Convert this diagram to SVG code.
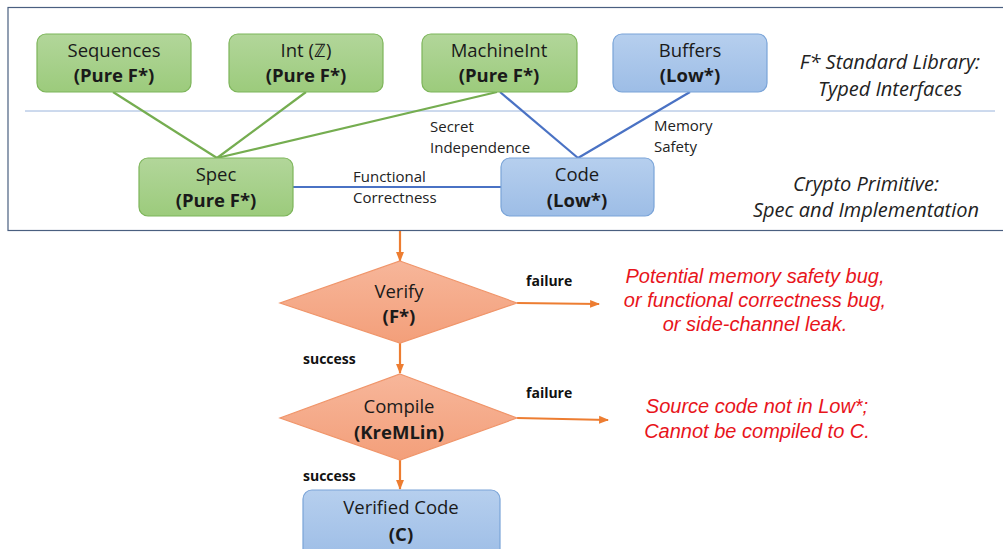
<svg xmlns="http://www.w3.org/2000/svg" width="1003" height="549" viewBox="0 0 1003 549">
<defs>
<linearGradient id="gg" x1="0" y1="0" x2="0" y2="1"><stop offset="0" stop-color="#b2d69a"/><stop offset="1" stop-color="#9ccb7c"/></linearGradient>
<linearGradient id="bg" x1="0" y1="0" x2="0" y2="1"><stop offset="0" stop-color="#b6cfee"/><stop offset="1" stop-color="#9dbde6"/></linearGradient>
<linearGradient id="og" x1="0" y1="0" x2="0" y2="1"><stop offset="0" stop-color="#f7b69a"/><stop offset="1" stop-color="#f39f7a"/></linearGradient>
<marker id="ah" viewBox="0 0 10 10" refX="9" refY="5" markerWidth="4.5" markerHeight="4.5" orient="auto" markerUnits="strokeWidth"><path d="M0,1 L10,5 L0,9 z" fill="#ed7d31"/></marker>
<style>
.g{fill:url(#gg);stroke:#7db55a;stroke-width:1.2}
.b{fill:url(#bg);stroke:#7aa4d8;stroke-width:1.2}
.d{fill:url(#og);stroke:#f0956a;stroke-width:1.2}
.t{font-family:"Open Sans","Liberation Sans",sans-serif;font-size:18.5px;fill:#1a1a1a;text-anchor:middle}
.tb{font-weight:bold}
.s{font-family:"Open Sans","Liberation Sans",sans-serif;font-size:15px;fill:#222}
.sb{font-family:"Open Sans","Liberation Sans",sans-serif;font-size:14px;font-weight:bold;fill:#111}
.i{font-family:"Open Sans","Liberation Sans",sans-serif;font-size:20px;font-style:italic;fill:#222;text-anchor:middle}
.r{font-family:"Liberation Sans",Arial,sans-serif;font-size:20px;font-style:italic;fill:#e8141b;text-anchor:middle}
.gl{stroke:#75ad50;stroke-width:2.2;fill:none}
.bl{stroke:#4a72c4;stroke-width:2.2;fill:none}
.ol{stroke:#ed7d31;stroke-width:2.2;fill:none;marker-end:url(#ah)}
</style>
</defs>
<rect width="1003" height="549" fill="#fff"/>
<rect x="8" y="7.5" width="1010" height="223" fill="none" stroke="#4a5f80" stroke-width="1.2"/>
<line x1="25" y1="111" x2="995" y2="111" stroke="#9ab4dc" stroke-width="1"/>

<g id="connectors">
<line class="gl" x1="113" y1="92" x2="217" y2="158"/>
<line class="gl" x1="306" y1="92" x2="217" y2="158"/>
<line class="gl" x1="497" y1="92" x2="217" y2="158"/>
<line class="bl" x1="500" y1="92" x2="578" y2="158"/>
<line class="bl" x1="690" y1="92" x2="578" y2="158"/>
<line class="bl" x1="293" y1="187" x2="501" y2="187"/>
<line class="ol" x1="400" y1="231" x2="400" y2="261"/>
<line class="ol" x1="400" y1="343" x2="400" y2="373"/>
<line class="ol" x1="400" y1="460" x2="400" y2="489"/>
<line class="ol" x1="517" y1="303" x2="599" y2="304"/>
<line class="ol" x1="517" y1="418" x2="608" y2="420"/>
<text class="s" x="430" y="132">Secret</text>
<text class="s" x="430" y="153">Independence</text>
<text class="s" x="353" y="182">Functional</text>
<text class="s" x="353" y="203">Correctness</text>
<text class="s" x="654" y="131">Memory</text>
<text class="s" x="654" y="152">Safety</text>
<text class="sb" x="526" y="286">failure</text>
<text class="sb" x="303" y="364">success</text>
<text class="sb" x="526" y="398">failure</text>
<text class="sb" x="303" y="481">success</text>
</g>

<g id="sequences"><rect class="g" x="37" y="34" width="154" height="58" rx="9"/><text class="t" x="114" y="57">Sequences</text><text class="t tb" x="114" y="82">(Pure F*)</text></g>
<g id="int"><rect class="g" x="229" y="34" width="154" height="58" rx="9"/><text class="t" x="306" y="57">Int (ℤ)</text><text class="t tb" x="306" y="82">(Pure F*)</text></g>
<g id="machineint"><rect class="g" x="422" y="34" width="155" height="58" rx="9"/><text class="t" x="499" y="57">MachineInt</text><text class="t tb" x="499" y="82">(Pure F*)</text></g>
<g id="buffers"><rect class="b" x="613" y="34" width="154" height="58" rx="9"/><text class="t" x="690" y="57">Buffers</text><text class="t tb" x="690" y="82">(Low*)</text></g>
<g id="spec"><rect class="g" x="139" y="158" width="154" height="58" rx="9"/><text class="t" x="216" y="181">Spec</text><text class="t tb" x="216" y="207">(Pure F*)</text></g>
<g id="code"><rect class="b" x="501" y="158" width="153" height="58" rx="9"/><text class="t" x="577" y="181">Code</text><text class="t tb" x="577" y="207">(Low*)</text></g>

<g id="label-stdlib"><text class="i" x="890" y="69">F* Standard Library:</text><text class="i" x="890" y="96">Typed Interfaces</text></g>
<g id="label-crypto"><text class="i" x="866" y="191">Crypto Primitive:</text><text class="i" x="866" y="217">Spec and Implementation</text></g>

<g id="verify"><polygon class="d" points="400,261 517,303 400,343 280,303"/><text class="t" x="399" y="298">Verify</text><text class="t tb" x="399" y="323">(F*)</text></g>
<g id="compile"><polygon class="d" points="400,374 517,418 400,460 280,418"/><text class="t" x="399" y="413">Compile</text><text class="t tb" x="399" y="439">(KreMLin)</text></g>
<g id="verified"><rect class="b" x="303" y="490" width="197" height="70" rx="9"/><text class="t" x="401" y="514">Verified Code</text><text class="t tb" x="401" y="541">(C)</text></g>

<g id="fail-verify"><text class="r" x="755" y="283">Potential memory safety bug,</text><text class="r" x="755" y="307">or functional correctness bug,</text><text class="r" x="755" y="331">or side-channel leak.</text></g>
<g id="fail-compile"><text class="r" x="757" y="413">Source code not in Low*;</text><text class="r" x="757" y="438">Cannot be compiled to C.</text></g>
</svg>
